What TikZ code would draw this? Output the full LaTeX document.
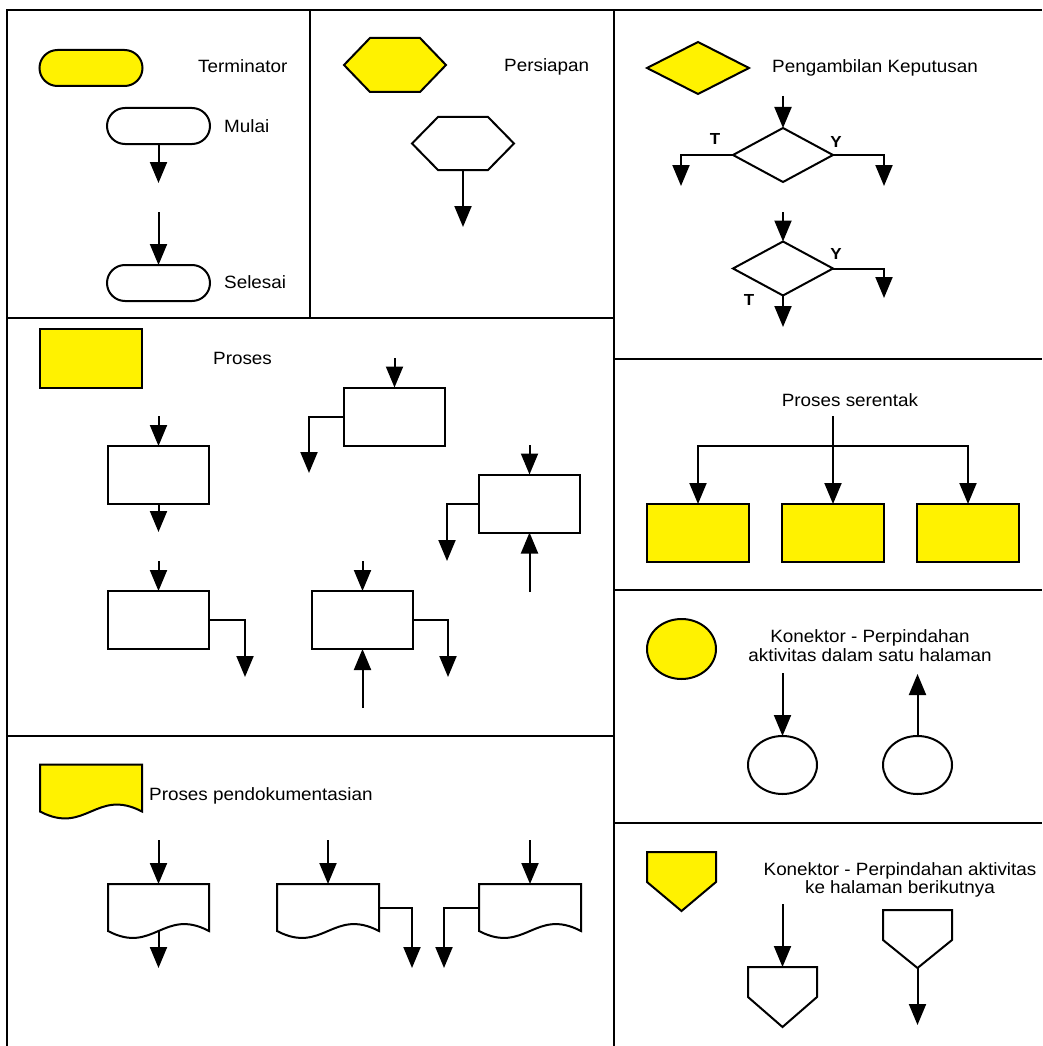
\documentclass[tikz,border=0pt]{standalone}
\usepackage{fontspec}
\setmainfont{Liberation Sans}[FakeStretch=1.06]
\usetikzlibrary{arrows.meta,shapes.geometric,shapes.misc,calc}

\newcommand{\hexout}[2]{%
  \draw[ln,#2] (#1.west) -- ($(#1.north west)+(26,0)$) -- ($(#1.north east)+(-26,0)$)
    -- (#1.east) -- ($(#1.south east)+(-26,0)$) -- ($(#1.south west)+(26,0)$) -- cycle;}
\newcommand{\docout}[2]{%
  \draw[ln,#2] (#1.south west) -- (#1.north west) -- (#1.north east) -- (#1.south east)
    .. controls ($(#1.south west)!0.55!(#1.south east)+(0,-24)$) and ($(#1.south west)!0.45!(#1.south east)+(0,24)$) .. (#1.south west) -- cycle;}
\newcommand{\pentout}[2]{%
  \draw[ln,#2] (#1.north west) -- (#1.north east) -- ($(#1.north east)+(0,30)$)
    -- (#1.south) -- ($(#1.north west)+(0,30)$) -- cycle;}

\begin{document}
\begin{tikzpicture}[x=1pt,y=-1pt,
  shp/.style={draw, line width=2pt, inner sep=0pt, outer sep=0pt},
  term/.style={shp, rounded rectangle, minimum width=103pt, minimum height=36pt},
  proc/.style={shp, rectangle, minimum width=101pt, minimum height=58pt},
  dec/.style={shp, diamond, minimum width=100pt, minimum height=54pt},
  conn/.style={shp, ellipse, minimum width=69pt, minimum height=58pt},
  ghost/.style={inner sep=0pt, outer sep=0pt, rectangle},
  fy/.style={fill=yellow},
  arr/.style={line width=2pt, -{Triangle[length=21pt,width=17pt]}},
  ln/.style={line width=2pt, line join=miter},
  gridline/.style={line width=2.5pt},
  lbl/.style={inner sep=0pt, font=\fontsize{17.8}{19}\selectfont},
  yt/.style={inner sep=0pt, font=\fontsize{16}{16}\selectfont\bfseries},
]
\path[use as bounding box] (0,0) rectangle (1042,1046);

% grid
\draw[gridline] (7,1046) -- (7,10) -- (1042,10);
\draw[gridline] (310,10) -- (310,318);
\draw[gridline] (614,10) -- (614,1046);
\draw[gridline] (7,318) -- (614,318);
\draw[gridline] (7,736) -- (614,736);
\draw[gridline] (614,359) -- (1042,359);
\draw[gridline] (614,590) -- (1042,590);
\draw[gridline] (614,823) -- (1042,823);

% ---- Terminator
\node[term,fy] (t0) at (91,68) {};
\node[lbl,anchor=base west] (t0l) at (198,73) {Terminator};
\node[term] (mulai) at (158.5,126) {};
\node[lbl,anchor=base west] (mulail) at (224,132) {Mulai};
\coordinate (mulaiout) at (158.5,183);
\draw[arr] (mulai.south) -- (mulaiout);
\node[term] (selesai) at (158.5,283) {};
\coordinate (selesaiin) at (158.5,212);
\draw[arr] (selesaiin) -- (selesai.north);
\node[lbl,anchor=base west] (selesail) at (224,288) {Selesai};

% ---- Persiapan
\node[ghost, minimum width=102pt, minimum height=54pt] (hx0) at (395,65) {};
\hexout{hx0}{fill=yellow}
\node[lbl,anchor=base west] (hx0l) at (504,72) {Persiapan};
\node[ghost, minimum width=102pt, minimum height=53pt] (hx1) at (463,143.5) {};
\hexout{hx1}{fill=white}
\coordinate (hx1out) at (463,227);
\draw[arr] (hx1.south) -- (hx1out);

% ---- Keputusan
\node[dec,fy,minimum width=102pt,minimum height=52pt] (d0) at (698,68) {};
\node[lbl,anchor=base west] (d0l) at (772,73) {Pengambilan Keputusan};
\node[dec] (d1) at (783,155) {};
\coordinate (d1in) at (783,96);
\draw[arr] (d1in) -- (d1.north);
\coordinate (d1t) at (681,186);
\draw[arr] (d1.west) -| (d1t);
\coordinate (d1y) at (884,186);
\draw[arr] (d1.east) -| (d1y);
\node[yt,anchor=base] (d1tl) at (715,144) {T};
\node[yt,anchor=base] (d1yl) at (836,147) {Y};
\node[dec] (d2) at (783,268.5) {};
\coordinate (d2in) at (783,212);
\draw[arr] (d2in) -- (d2.north);
\coordinate (d2y) at (884,298);
\draw[arr] (d2.east) -| (d2y);
\coordinate (d2t) at (783,327);
\draw[arr] (d2.south) -- (d2t);
\node[yt,anchor=base] (d2yl) at (836,259) {Y};
\node[yt,anchor=base] (d2tl) at (749,305) {T};

% ---- Proses
\node[proc,fy,minimum width=102pt,minimum height=59pt] (p0) at (91,358.5) {};
\node[lbl,anchor=base west] (p0l) at (213,364) {Proses};
% A
\node[proc] (pa) at (158.5,475) {};
\coordinate (pain) at (158.5,416);
\coordinate (paout) at (158.5,532);
\draw[arr] (pain) -- (pa.north);
\draw[arr] (pa.south) -- (paout);
% B
\node[proc] (pb) at (394.5,416.5) {};
\coordinate (pbin) at (394.5,358);
\coordinate (pbout) at (309,473);
\draw[arr] (pbin) -- (pb.north);
\draw[arr] (pb.west) -| (pbout);
% C
\node[proc] (pc) at (529.5,503.5) {};
\coordinate (pcin) at (529.5,445);
\coordinate (pcup) at (529.5,592);
\coordinate (pcout) at (447,561);
\draw[arr] (pcin) -- (pc.north);
\draw[arr] (pcup) -- (pc.south);
\draw[arr] (pc.west) -| (pcout);
% D
\node[proc] (pd) at (158.5,620) {};
\coordinate (pdin) at (158.5,561);
\coordinate (pdout) at (245,677);
\draw[arr] (pdin) -- (pd.north);
\draw[arr] (pd.east) -| (pdout);
% E
\node[proc] (pe) at (362.5,620) {};
\coordinate (pein) at (362.5,561);
\coordinate (peup) at (362.5,708);
\coordinate (peout) at (448,677);
\draw[arr] (pein) -- (pe.north);
\draw[arr] (peup) -- (pe.south);
\draw[arr] (pe.east) -| (peout);

% ---- Dokumen
\node[ghost, minimum width=102pt, minimum height=47pt] (doc0) at (91,788) {};
\docout{doc0}{fill=yellow}
\node[lbl,anchor=base west] (doc0l) at (149,800) {Proses pendokumentasian};
\node[ghost, minimum width=101pt, minimum height=47pt] (doc1) at (158.5,907.5) {};
\docout{doc1}{fill=white}
\node[ghost, minimum width=102pt, minimum height=47pt] (doc2) at (328,907.5) {};
\docout{doc2}{fill=white}
\node[ghost, minimum width=102pt, minimum height=47pt] (doc3) at (530,907.5) {};
\docout{doc3}{fill=white}
\coordinate (doc1in) at (158.5,840);
\coordinate (doc2in) at (328,840);
\coordinate (doc3in) at (530,840);
\draw[arr] (doc1in) -- (doc1.north);
\draw[arr] (doc2in) -- (doc2.north);
\draw[arr] (doc3in) -- (doc3.north);
\coordinate (doc1out) at (158.5,968);
\coordinate (doc2out) at (412,968);
\coordinate (doc3out) at (444,968);
\draw[arr] (doc1.south) -- (doc1out);
\draw[arr] (doc2.east) -| (doc2out);
\draw[arr] (doc3.west) -| (doc3out);

% ---- Proses serentak
\node[lbl,anchor=base] (pst) at (850,406) {Proses serentak};
\node[proc,fy,minimum width=102pt] (s1) at (698,533) {};
\node[proc,fy,minimum width=102pt] (s2) at (833,533) {};
\node[proc,fy,minimum width=102pt] (s3) at (968,533) {};
\coordinate (sroot) at (833,416);
\coordinate (sbar) at (833,446);
\draw[arr] (sroot) -- (s2.north);
\draw[arr] (sbar) -| (s1.north);
\draw[arr] (sbar) -| (s3.north);

% ---- Konektor halaman sama
\node[conn,fy,minimum height=60pt] (c0) at (681.5,649) {};
\node[lbl,anchor=base] (c0l1) at (870,642) {Konektor - Perpindahan};
\node[lbl,anchor=base] (c0l2) at (870,661) {aktivitas dalam satu halaman};
\node[conn] (c1) at (782.5,765) {};
\node[conn] (c2) at (917.5,765) {};
\coordinate (c1in) at (782.5,673);
\coordinate (c2out) at (917.5,674);
\draw[arr] (c1in) -- (c1.north);
\draw[arr] (c2.north) -- (c2out);

% ---- Konektor halaman berikut
\node[ghost, minimum width=69pt, minimum height=59pt] (pg0) at (681.5,881.5) {};
\pentout{pg0}{fill=yellow}
\node[lbl,anchor=base] (pg0l1) at (900,875) {Konektor - Perpindahan aktivitas};
\node[lbl,anchor=base] (pg0l2) at (900,893) {ke halaman berikutnya};
\node[ghost, minimum width=69pt, minimum height=60pt] (pg1) at (782.5,997) {};
\pentout{pg1}{fill=white}
\node[ghost, minimum width=69pt, minimum height=58pt] (pg2) at (917.5,939) {};
\pentout{pg2}{fill=white}
\coordinate (pg1in) at (782.5,904);
\coordinate (pg2out) at (917.5,1025);
\draw[arr] (pg1in) -- (pg1.north);
\draw[arr] (pg2.south) -- (pg2out);
\end{tikzpicture}
\end{document}
